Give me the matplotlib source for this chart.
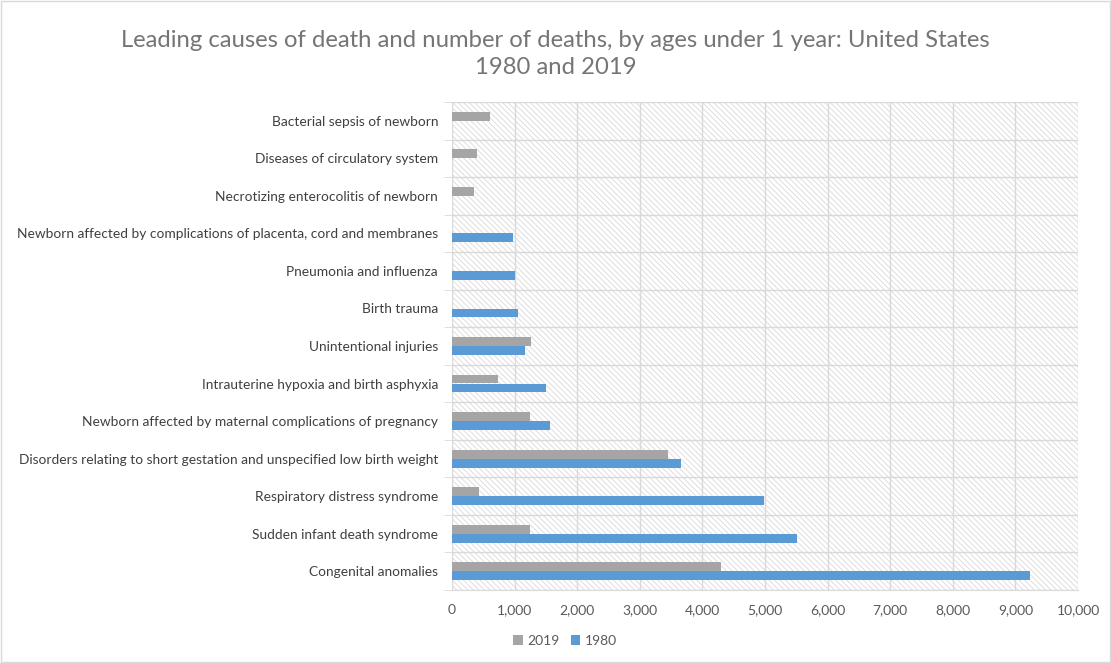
import numpy as np
import matplotlib.pyplot as plt
from matplotlib.patches import Rectangle

# Data (bottom to top)
causes = [
    'Congenital anomalies',
    'Sudden infant death syndrome',
    'Respiratory distress syndrome',
    'Disorders relating to short gestation and unspecified low birth weight',
    'Newborn affected by maternal complications of pregnancy',
    'Intrauterine hypoxia and birth asphyxia',
    'Unintentional injuries',
    'Birth trauma',
    'Pneumonia and influenza',
    'Newborn affected by complications of placenta, cord and membranes',
    'Necrotizing enterocolitis of newborn',
    'Diseases of circulatory system',
    'Bacterial sepsis of newborn',
]
deaths_2019 = [4298, 1248, 424, 3456, 1248, 741, 1269, 0, 0, 0, 352, 400, 603]
deaths_1980 = [9240, 5510, 4989, 3653, 1573, 1498, 1173, 1056, 1008, 980, 0, 0, 0]
xticks = np.arange(0, 10001, 1000)

plt.rcParams['font.family'] = ['Lato', 'DejaVu Sans']
plt.rcParams['hatch.color'] = '#d9d9d9'
plt.rcParams['hatch.linewidth'] = 0.6

fig = plt.figure(figsize=(11.11, 6.63), dpi=100)
ax = fig.add_axes([452 / 1111, 1 - 590 / 663, 626 / 1111, 488 / 663])

# figure border
fig.patches.append(Rectangle((0.001, 0.001), 0.998, 0.997, transform=fig.transFigure,
                             fill=False, edgecolor='#d9d9d9', linewidth=1))

# hatched plot background
ax.add_patch(Rectangle((0, 0), 1, 1, transform=ax.transAxes, facecolor='white',
                       edgecolor='#d9d9d9', hatch='\\\\\\\\\\\\', linewidth=0, zorder=0))

y = np.arange(len(causes))
h = 0.235
ax.barh(y + 0.12, deaths_2019, height=h, color='#a5a5a5', label='2019', zorder=3)
ax.barh(y - 0.12, deaths_1980, height=h, color='#5b9bd5', label='1980', zorder=3)

ax.set_xlim(0, 10000)
ax.set_ylim(-0.5, len(causes) - 0.5)
ax.set_xticks(xticks)
ax.set_xticklabels([f'{v:,}' for v in xticks], color='#595959', fontsize=10)
ax.set_yticks(y)
ax.set_yticklabels(causes, color='#404040', fontsize=9.9)
ax.set_yticks(np.arange(-0.5, len(causes), 1), minor=True)
ax.tick_params(axis='y', which='major', length=0, pad=10)
ax.tick_params(axis='y', which='minor', length=6, color='#d9d9d9')
ax.tick_params(axis='x', length=0, pad=10)

ax.grid(axis='x', color='#d9d9d9', linewidth=1, zorder=1)
ax.grid(axis='y', which='minor', color='#d9d9d9', linewidth=1, zorder=1)
ax.set_axisbelow(True)
for s in ['top', 'right', 'left']:
    ax.spines[s].set_visible(False)
ax.spines['bottom'].set_color('#d9d9d9')

fig.text(0.5, 1 - 54 / 663, 'Leading causes of death and number of deaths, by ages under 1 year: United States\n1980 and 2019',
         ha='center', va='center', fontsize=17.2, color='#757575', linespacing=1.35)

fig.legend(loc='center', bbox_to_anchor=(565 / 1111, 1 - 641 / 663), ncol=2, frameon=False,
           fontsize=10, handlelength=0.7, handleheight=0.7, handletextpad=0.3,
           columnspacing=0.8, labelcolor='#595959')

fig.savefig('out.png', dpi=100)
